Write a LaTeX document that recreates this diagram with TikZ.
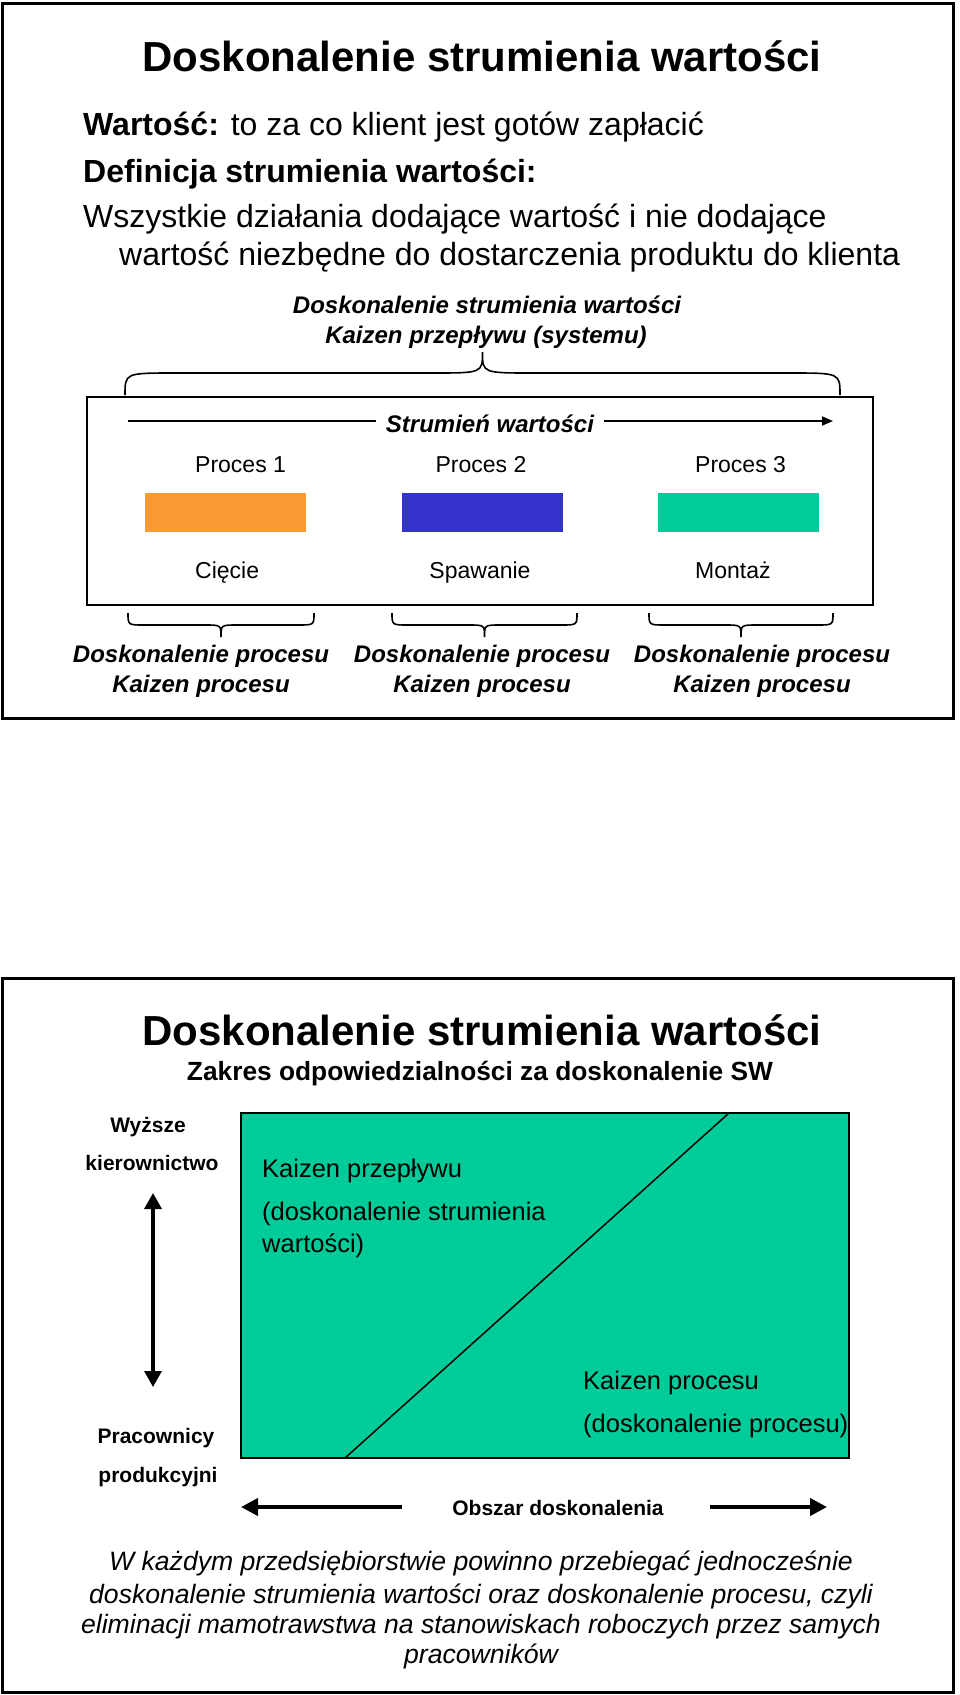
\documentclass[tikz,border=0pt]{standalone}
\usepackage{fontspec}
\setmainfont{Liberation Sans}
\usetikzlibrary{arrows.meta}
\definecolor{cutorange}{RGB}{249,154,51}
\definecolor{weldblue}{RGB}{51,51,204}
\definecolor{mountgreen}{RGB}{0,204,153}
\newcommand\SetSize[1]{\fontsize{#1}{#1}\selectfont}
% brace: left x, right x, end y, line y, tip y, curve width
\newcommand\HBrace[6]{%
    \draw[line width=1.6pt] (#1,#3) .. controls (#1,#4) .. (#1+#6,#4)
        -- ({(#1+#2)/2-#6},#4) .. controls ({(#1+#2)/2},#4) .. ({(#1+#2)/2},#5)
        .. controls ({(#1+#2)/2},#4) .. ({(#1+#2)/2+#6},#4)
        -- (#2-#6,#4) .. controls (#2,#4) .. (#2,#3);
}

\begin{document}
\begin{tikzpicture}[x=1pt,y=-1pt,
    txt/.style={inner sep=0pt},
    bigtitle/.style={txt,anchor=base,font=\SetSize{42}\bfseries},
    bodytext/.style={txt,anchor=base west,font=\SetSize{32}},
    bracelabel/.style={txt,anchor=base,font=\SetSize{24}\bfseries\itshape},
    proclabel/.style={txt,font=\SetSize{23}},
    procbox/.style={draw=none,minimum width=161pt,minimum height=39pt,inner sep=0pt},
    sidelabel/.style={txt,anchor=base,font=\SetSize{21}\bfseries},
    areatext/.style={txt,anchor=base west,font=\SetSize{25.5}},
    notetext/.style={txt,anchor=base,font=\SetSize{26.6}\itshape},
    frame/.style={line width=3pt},
    fatarrow/.style={line width=4pt,-{Triangle[length=17pt,width=17pt]}}
]
    \useasboundingbox (0,0) rectangle (960,1695);

    % first slide
    \draw[frame] (2.5,3) rectangle (953,718);
    \node[bigtitle] (title1) at (482,71) {Doskonalenie strumienia wartości};
    \node[bodytext] (value) at (83,135) {\textbf{Wartość:} to za co klient jest gotów zapłacić};
    \node[bodytext,font=\SetSize{32}\bfseries] (defhead) at (83,182) {Definicja strumienia wartości:};
    \node[bodytext] (def1) at (83,227) {Wszystkie działania dodające wartość i nie dodające};
    \node[bodytext] (def2) at (119,265) {wartość niezbędne do dostarczenia produktu do klienta};
    \node[bracelabel] (vsm1) at (487,313) {Doskonalenie strumienia wartości};
    \node[bracelabel] (vsm2) at (486,343) {Kaizen przepływu (systemu)};
    \HBrace{125}{840}{395}{373}{352}{50}

    \draw[line width=2pt] (87,397) rectangle (873,605);
    \coordinate (flowstart) at (128,421);
    \coordinate (flowend) at (833,421);
    \node[bracelabel,inner xsep=10pt] (flow) at (490,432) {Strumień wartości};
    \draw[line width=1.8pt] (flowstart) -- (flow.west |- flowstart);
    \draw[line width=1.8pt,-{Triangle[length=11pt,width=9pt]}] (flow.east |- flowstart) -- (flowend);

    \node[proclabel,anchor=base west] (p1) at (195,472) {Proces 1};
    \node[proclabel,anchor=base] (p2) at (481,472) {Proces 2};
    \node[proclabel,anchor=base west] (p3) at (695,472) {Proces 3};
    \node[procbox,fill=cutorange] (p1box) at (225.5,512.5) {};
    \node[procbox,fill=weldblue] (p2box) at (482,512.5) {};
    \node[procbox,fill=mountgreen] (p3box) at (738.5,512.5) {};
    \node[proclabel,anchor=base west] (cut) at (195,578) {Cięcie};
    \node[proclabel,anchor=base] (weld) at (480,578) {Spawanie};
    \node[proclabel,anchor=base west] (mount) at (695,578) {Montaż};

    \HBrace{128}{314}{613}{625}{637}{16}
    \HBrace{392}{577}{613}{625}{637}{16}
    \HBrace{649}{833}{613}{625}{637}{16}
    \node[bracelabel] (imp1) at (201,662) {Doskonalenie procesu};
    \node[bracelabel] (imp2) at (482,662) {Doskonalenie procesu};
    \node[bracelabel] (imp3) at (762,662) {Doskonalenie procesu};
    \node[bracelabel] (kai1) at (201,692) {Kaizen procesu};
    \node[bracelabel] (kai2) at (482,692) {Kaizen procesu};
    \node[bracelabel] (kai3) at (762,692) {Kaizen procesu};

    % second slide
    \draw[frame] (2.5,978) rectangle (953,1692);
    \node[bigtitle] (title2) at (482,1045) {Doskonalenie strumienia wartości};
    \node[txt,anchor=base,font=\SetSize{26.3}\bfseries] (scope) at (480,1080) {Zakres odpowiedzialności za doskonalenie SW};

    \fill[mountgreen] (241,1113) rectangle (849,1458);
    \draw[line width=1.3pt] (241,1113) rectangle (849,1458);
    \draw[line width=1.5pt] (729,1113) -- (345,1458);

    \node[sidelabel] (top1) at (148,1132) {Wyższe};
    \node[sidelabel] (top2) at (152,1170) {kierownictwo};
    \coordinate (up) at (153,1193);
    \coordinate (down) at (153,1387);
    \draw[line width=3.3pt,{Triangle[length=16pt,width=17pt]}-{Triangle[length=16pt,width=17pt]}] (up) -- (down);
    \node[sidelabel] (bot1) at (156,1443) {Pracownicy};
    \node[sidelabel] (bot2) at (158,1482) {produkcyjni};

    \node[areatext] (flow1) at (262,1177) {Kaizen przepływu};
    \node[areatext] (flow2) at (262,1220) {(doskonalenie strumienia};
    \node[areatext] (flow3) at (262,1252) {wartości)};
    \node[areatext] (proc1) at (583,1389) {Kaizen procesu};
    \node[areatext] (proc2) at (583,1432) {(doskonalenie procesu)};

    \node[sidelabel] (area) at (558,1515) {Obszar doskonalenia};
    \coordinate (lefttail) at (402,1507);
    \coordinate (lefttip) at (241,1507);
    \coordinate (righttail) at (710,1507);
    \coordinate (righttip) at (827,1507);
    \draw[fatarrow] (lefttail) -- (lefttip);
    \draw[fatarrow] (righttail) -- (righttip);

    \node[notetext] (note1) at (481,1570) {W każdym przedsiębiorstwie powinno przebiegać jednocześnie};
    \node[notetext] (note2) at (481,1603) {doskonalenie strumienia wartości oraz doskonalenie procesu, czyli};
    \node[notetext] (note3) at (481,1633) {eliminacji mamotrawstwa na stanowiskach roboczych przez samych};
    \node[notetext] (note4) at (481,1663) {pracowników};
\end{tikzpicture}
\end{document}
